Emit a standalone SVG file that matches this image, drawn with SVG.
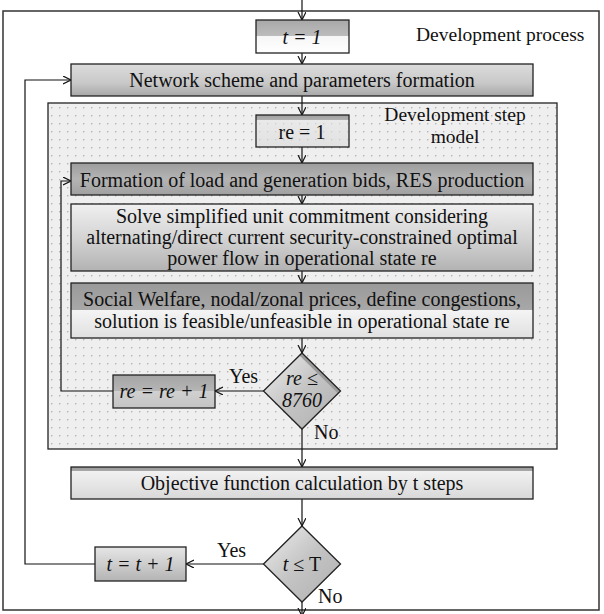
<svg xmlns="http://www.w3.org/2000/svg" width="604" height="614" viewBox="0 0 604 614">
  <defs>
    <marker id="arr" markerWidth="10" markerHeight="10" refX="8" refY="4" orient="auto" markerUnits="userSpaceOnUse">
      <path d="M0,0 L8,4 L0,8" fill="none" stroke="#111" stroke-width="1.2"/>
    </marker>
    <pattern id="dots" width="8" height="8" patternUnits="userSpaceOnUse">
      <rect width="8" height="8" fill="#efefef"/>
      <rect x="3" y="3" width="1.4" height="1.4" fill="#b4b4b4"/>
    </pattern>
    <linearGradient id="gNet" x1="0" y1="0" x2="0" y2="1">
      <stop offset="0" stop-color="#dcdcdc"/>
      <stop offset="0.6" stop-color="#c8c8c8"/>
      <stop offset="1" stop-color="#a8a8a8"/>
    </linearGradient>
    <linearGradient id="gForm" x1="0" y1="0" x2="0" y2="1">
      <stop offset="0" stop-color="#9c9c9c"/>
      <stop offset="0.5" stop-color="#b4b4b4"/>
      <stop offset="1" stop-color="#a0a0a0"/>
    </linearGradient>
    <linearGradient id="gSolve" x1="0" y1="0" x2="0" y2="1">
      <stop offset="0" stop-color="#f0f0f0"/>
      <stop offset="0.5" stop-color="#d4d4d4"/>
      <stop offset="1" stop-color="#b2b2b2"/>
    </linearGradient>
    <linearGradient id="gSplit" x1="0" y1="0" x2="0" y2="1">
      <stop offset="0" stop-color="#9a9a9a"/>
      <stop offset="0.5" stop-color="#a8a8a8"/>
      <stop offset="0.5" stop-color="#f4f4f4"/>
      <stop offset="1" stop-color="#e0e0e0"/>
    </linearGradient>
    <linearGradient id="gTop" x1="0" y1="0" x2="0" y2="1">
      <stop offset="0" stop-color="#999"/>
      <stop offset="0.12" stop-color="#a8a8a8"/>
      <stop offset="0.12" stop-color="#f2f2f2"/>
      <stop offset="1" stop-color="#d8d8d8"/>
    </linearGradient>
    <linearGradient id="gT1" x1="0" y1="0" x2="0" y2="1">
      <stop offset="0" stop-color="#a8a8a8"/>
      <stop offset="0.48" stop-color="#bcbcbc"/>
      <stop offset="0.48" stop-color="#f6f6f6"/>
      <stop offset="1" stop-color="#ffffff"/>
    </linearGradient>
    <linearGradient id="gRe1" x1="0" y1="0" x2="0" y2="1">
      <stop offset="0" stop-color="#a0a0a0"/>
      <stop offset="0.15" stop-color="#b0b0b0"/>
      <stop offset="0.15" stop-color="#e6e6e6" stop-opacity="0.6"/>
      <stop offset="1" stop-color="#d8d8d8" stop-opacity="0.6"/>
    </linearGradient>
    <linearGradient id="gDia" x1="0" y1="0" x2="1" y2="1">
      <stop offset="0" stop-color="#eeeeee"/>
      <stop offset="0.5" stop-color="#c4c4c4"/>
      <stop offset="1" stop-color="#b0b0b0"/>
    </linearGradient>
    <linearGradient id="gSmall" x1="0" y1="0" x2="0" y2="1">
      <stop offset="0" stop-color="#a4a4a4"/>
      <stop offset="0.5" stop-color="#b6b6b6"/>
      <stop offset="0.5" stop-color="#d0d0d0"/>
      <stop offset="1" stop-color="#c4c4c4"/>
    </linearGradient>
    <linearGradient id="gTinc" x1="0" y1="0" x2="0" y2="1">
      <stop offset="0" stop-color="#e6e6e6"/>
      <stop offset="1" stop-color="#b4b4b4"/>
    </linearGradient>
    <clipPath id="diaClip">
      <path d="M302,353 L340.5,391 L302,429 L263.5,391 Z"/>
    </clipPath>
  </defs>
  <style>
    .box { stroke: #222; stroke-width: 1.3; }
    .frame { fill: none; stroke: #333; stroke-width: 1.5; }
    .ln { fill: none; stroke: #111; stroke-width: 1.2; }
    text { font-family: "Liberation Serif", "Times New Roman", serif; font-size: 20px; fill: #111; }
    .c { text-anchor: middle; }
    .i { font-style: italic; }
  </style>

  <!-- outer frame -->
  <rect id="development-process" class="frame" x="3" y="11" width="596" height="599"/>
  <text x="416" y="41" style="font-size:19.5px">Development process</text>

  <!-- inner dotted frame -->
  <g id="development-step-model">
    <rect x="48" y="103" width="509" height="346" fill="url(#dots)" stroke="#222" stroke-width="1.3"/>
    <text class="c" x="455" y="121" style="font-size:19.5px">Development step</text>
    <text class="c" x="455" y="143" style="font-size:19.5px">model</text>
  </g>

  <g id="connectors">
    <path class="ln" d="M302,0 V20" marker-end="url(#arr)"/>
    <path class="ln" d="M302,53 V64" marker-end="url(#arr)"/>
    <path class="ln" d="M302,96 V115" marker-end="url(#arr)"/>
    <path class="ln" d="M302,147 V163" marker-end="url(#arr)"/>
    <path class="ln" d="M302,195 V204" marker-end="url(#arr)"/>
    <path class="ln" d="M302,271 V283" marker-end="url(#arr)"/>
    <path class="ln" d="M302,338 V353" marker-end="url(#arr)"/>
    <path class="ln" d="M264,391 H215" marker-end="url(#arr)"/>
    <path class="ln" d="M113,391 H61 V181 H71" marker-end="url(#arr)"/>
    <path class="ln" d="M302,429 V467" marker-end="url(#arr)"/>
    <path class="ln" d="M302,499 V526" marker-end="url(#arr)"/>
    <path class="ln" d="M264,564 H186" marker-end="url(#arr)"/>
    <path class="ln" d="M95,564 H25 V80 H71" marker-end="url(#arr)"/>
    <path class="ln" d="M302,602 V616" marker-end="url(#arr)"/>
    <text x="229" y="383">Yes</text>
    <text x="314" y="439">No</text>
    <text x="217" y="557">Yes</text>
    <text x="318" y="603">No</text>
  </g>

  <g id="t-init">
    <rect class="box" x="256" y="20" width="93" height="33" fill="url(#gT1)"/>
    <text class="c i" x="302" y="44">t = 1</text>
  </g>

  <g id="network">
    <rect class="box" x="71" y="64" width="462" height="32" fill="url(#gNet)"/>
    <text class="c" x="302" y="87">Network scheme and parameters formation</text>
  </g>

  <g id="re-init">
    <rect class="box" x="256" y="115" width="93" height="32" fill="url(#gRe1)"/>
    <text class="c" x="302" y="139">re = 1</text>
  </g>

  <g id="bids">
    <rect class="box" x="71" y="163" width="462" height="32" fill="url(#gForm)"/>
    <text class="c" x="302" y="187">Formation of load and generation bids, RES production</text>
  </g>

  <g id="solve">
    <rect class="box" x="71" y="204" width="462" height="67" fill="url(#gSolve)"/>
    <text class="c" x="302" y="223">Solve simplified unit commitment considering</text>
    <text class="c" x="302" y="244">alternating/direct current security-constrained optimal</text>
    <text class="c" x="302" y="265">power flow in operational state re</text>
  </g>

  <g id="welfare">
    <rect class="box" x="71" y="283" width="462" height="55" fill="url(#gSplit)"/>
    <text class="c" x="302" y="306">Social Welfare, nodal/zonal prices, define congestions,</text>
    <text class="c" x="302" y="328">solution is feasible/unfeasible in operational state re</text>
  </g>

  <g id="re-check">
    <path d="M302,353 L340.5,391 L302,429 L263.5,391 Z" fill="url(#gDia)"/>
    <!-- darker band along the upper-right edge -->
    <path d="M302,353 L340.5,391" stroke="#9a9a9a" stroke-width="7" clip-path="url(#diaClip)"/>
    <path class="box" d="M302,353 L340.5,391 L302,429 L263.5,391 Z" fill="none"/>
    <text class="c i" x="302" y="385">re ≤</text>
    <text class="c i" x="302" y="407">8760</text>
  </g>

  <g id="re-inc">
    <rect class="box" x="113" y="375" width="102" height="33" fill="url(#gSmall)"/>
    <text class="c i" x="164" y="398">re = re + 1</text>
  </g>

  <g id="objective">
    <rect class="box" x="71" y="467" width="462" height="32" fill="url(#gTop)"/>
    <text class="c" x="302" y="490">Objective function calculation by t steps</text>
  </g>

  <g id="t-check">
    <path class="box" d="M302,526 L340.5,564 L302,602 L263.5,564 Z" fill="url(#gDia)"/>
    <text class="c" x="302" y="571"><tspan class="i">t</tspan> ≤ T</text>
  </g>

  <g id="t-inc">
    <rect class="box" x="95" y="547" width="91" height="34" fill="url(#gTinc)"/>
    <text class="c i" x="140.5" y="571">t = t + 1</text>
  </g>
</svg>
